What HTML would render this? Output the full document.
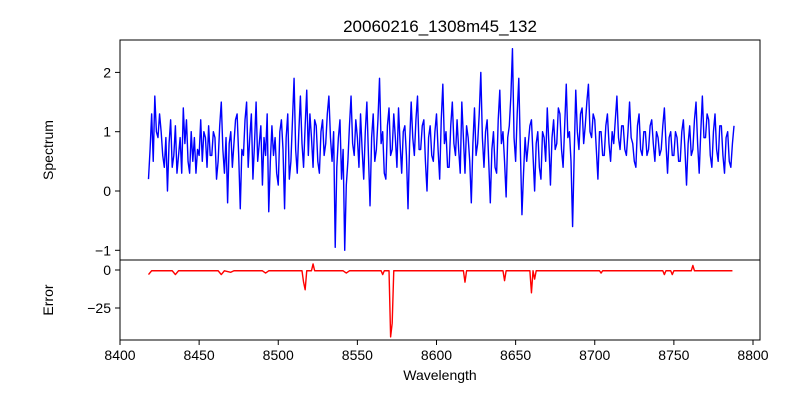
<!DOCTYPE html>
<html><head><meta charset="utf-8"><style>
body{margin:0;background:#fff}
svg{display:block;font-family:"Liberation Sans","DejaVu Sans",sans-serif}
</style></head><body>
<svg id="chart" width="800" height="400"></svg>
<script>
const specStart = [8418];
const specStep = [1];
const specVals = [
0.2,0.7,1.3,0.5,1.6,1.0,0.9,1.3,1.0,0.6,0.4,0.9,0.0,0.8,1.2,0.4,0.6,1.1,0.3,0.6,
0.9,0.3,1.4,0.8,1.2,0.5,0.3,1.0,0.5,0.9,0.3,0.7,0.6,1.2,0.5,1.0,0.9,0.4,1.1,0.6,
0.6,1.0,0.9,0.2,0.5,1.1,1.5,0.7,0.3,0.9,-0.2,0.8,1.0,0.4,0.8,1.2,1.3,0.6,-0.3,0.7,
0.6,1.2,1.5,0.4,0.9,1.3,0.2,0.8,1.5,0.5,0.8,1.1,0.1,0.9,0.6,1.3,-0.35,0.5,1.1,0.6,
0.9,0.3,0.1,1.0,1.2,0.7,-0.3,0.9,1.3,0.2,0.5,1.2,1.9,0.7,0.3,1.0,1.6,0.8,0.4,1.1,
1.7,0.6,1.3,0.9,0.4,1.2,1.1,0.5,0.3,1.0,1.2,0.6,0.8,1.3,1.6,0.9,0.5,1.0,-0.95,0.4,
0.9,1.2,0.2,0.7,-1.0,0.1,0.5,1.1,1.6,0.8,0.6,1.2,0.9,0.4,1.3,0.7,0.2,1.0,1.5,0.6,
-0.25,0.9,1.3,0.5,0.7,1.2,1.9,0.8,1.0,0.3,0.2,1.1,1.4,0.6,0.7,1.3,0.9,0.4,1.4,0.8,
0.3,1.0,1.1,0.6,-0.3,0.8,1.5,0.9,0.6,1.2,1.6,0.7,0.7,1.1,1.2,0.5,0.0,0.9,1.1,0.6,
0.5,1.0,1.3,0.7,0.2,1.2,1.8,0.8,1.0,0.4,0.4,1.1,1.5,0.8,0.6,1.2,0.7,0.3,1.5,0.9,
0.3,1.1,0.9,0.5,-0.2,0.8,1.4,0.6,0.8,1.3,2.0,0.9,0.4,1.0,1.2,0.5,-0.2,0.7,1.0,0.4,
0.3,1.2,1.7,0.8,1.0,0.5,-0.1,0.9,1.1,1.6,2.4,0.9,0.5,1.3,1.9,0.7,-0.4,0.3,0.9,0.5,
0.8,1.1,1.2,0.6,0.0,0.8,1.0,0.4,0.2,1.0,0.9,0.5,1.4,0.8,0.1,0.9,1.2,0.7,0.8,1.4,
1.3,0.7,0.4,1.1,1.8,0.9,1.0,0.5,-0.6,0.6,1.7,1.0,0.7,1.3,1.4,0.8,1.1,1.5,1.8,1.0,
0.9,1.3,1.2,0.7,0.2,1.0,1.0,0.6,0.6,1.1,1.3,0.8,0.5,1.0,0.8,1.2,1.6,0.9,0.7,1.1,
1.1,0.7,0.6,1.0,1.5,0.9,0.8,0.5,0.4,1.1,1.3,0.7,0.6,1.0,1.0,0.6,0.7,1.1,1.2,0.8,
0.5,1.0,0.9,0.6,0.7,1.1,1.4,0.8,0.3,0.9,1.0,0.6,0.6,1.0,0.9,0.5,0.5,1.0,1.2,0.7,
0.1,0.8,1.1,0.6,0.7,1.2,1.5,0.8,0.3,1.0,1.6,0.9,0.9,1.3,1.2,0.6,0.4,1.0,1.3,0.7,
0.5,1.1,1.1,0.6,0.3,0.9,1.0,0.5,0.4,0.8,1.1];
const errWave = [8418,8420,8433,8435,8437,8462,8464,8466,8470,8472,8490,8492,8494,8500,8515,8516,8517,8518,8521,8522,8523,8541,8543,8545,8565,8566,8567,8570,8571,8572,8573,8617,8618,8619,8642,8643,8644,8659,8660,8661,8662,8663,8703,8704,8705,8743,8744,8745,8748,8749,8750,8761,8762,8763,8787];
const errVals = [-3,-0.5,-0.5,-3,-0.5,-0.5,-3,-0.5,-1.5,-0.5,-0.5,-2,-0.5,-0.5,-0.5,-8,-13,-0.5,-0.5,4,-0.5,-0.5,-2,-0.5,-0.5,-3,-0.5,-0.5,-44,-35,-0.5,-0.5,-8,-0.5,-0.5,-7,-0.5,-0.5,-15,-0.5,-6,-0.5,-0.5,-2,-0.5,-0.5,-3,-0.5,-0.5,-3,-0.5,-0.5,3,-0.5,-0.5];
const xTicks = [8400,8450,8500,8550,8600,8650,8700,8750,8800];
const specTicks = [-1,0,1,2];
const errTicks = [0,-25];

const NS='http://www.w3.org/2000/svg';
const svg=document.getElementById('chart');
function mk(t,a,p){const e=document.createElementNS(NS,t);for(const k in a)e.setAttribute(k,a[k]);(p||svg).appendChild(e);return e;}
const X=v=>120+(v-8400)*1.5825;
const Ys=v=>191-v*59.3;
const Ye=v=>270-v*1.52;

let t=mk('text',{x:440,y:32,'text-anchor':'middle','font-size':17});t.textContent='20060216_1308m45_132';


t=mk('text',{x:440,y:380,'text-anchor':'middle','font-size':14});t.textContent='Wavelength';


t=mk('text',{x:0,y:0,'text-anchor':'middle','font-size':14,transform:'translate(53,150) rotate(-90)'});t.textContent='Spectrum';


t=mk('text',{x:0,y:0,'text-anchor':'middle','font-size':14,transform:'translate(53,300) rotate(-90)'});t.textContent='Error';



let pts=specVals.map((v,i)=>X(specStart[0]+i*specStep[0]).toFixed(2)+','+Ys(v).toFixed(2)).join(' ');
let l=mk('polyline',{points:pts,fill:'none',stroke:'#0000ff','stroke-width':1.4,'stroke-linejoin':'round'});


pts=errWave.map((w,i)=>X(w).toFixed(2)+','+Ye(errVals[i]).toFixed(2)).join(' ');
l=mk('polyline',{points:pts,fill:'none',stroke:'#ff0000','stroke-width':1.4,'stroke-linejoin':'round'});



let r=mk('rect',{x:120,y:40,width:640,height:220,fill:'none',stroke:'#000','stroke-width':1});


r=mk('rect',{x:120,y:260,width:640,height:80,fill:'none',stroke:'#000','stroke-width':1});



xTicks.forEach(v=>{
  const tk=mk('line',{x1:X(v),x2:X(v),y1:340,y2:345,stroke:'#000'});
  
  
  const tx=mk('text',{x:X(v),y:360,'text-anchor':'middle','font-size':14});tx.textContent=v;
  
  
});
specTicks.forEach(v=>{
  const tk=mk('line',{x1:115,x2:120,y1:Ys(v),y2:Ys(v),stroke:'#000'});
  
  
  const tx=mk('text',{x:111,y:Ys(v)+5,'text-anchor':'end','font-size':14});tx.textContent=v<0?'\u2212'+(-v):v;
  
  
});
errTicks.forEach(v=>{
  const tk=mk('line',{x1:115,x2:120,y1:Ye(v),y2:Ye(v),stroke:'#000'});
  
  
  const tx=mk('text',{x:111,y:Ye(v)+5,'text-anchor':'end','font-size':14});tx.textContent=v<0?'\u2212'+(-v):v;
  
  
});
</script>
</body></html>
